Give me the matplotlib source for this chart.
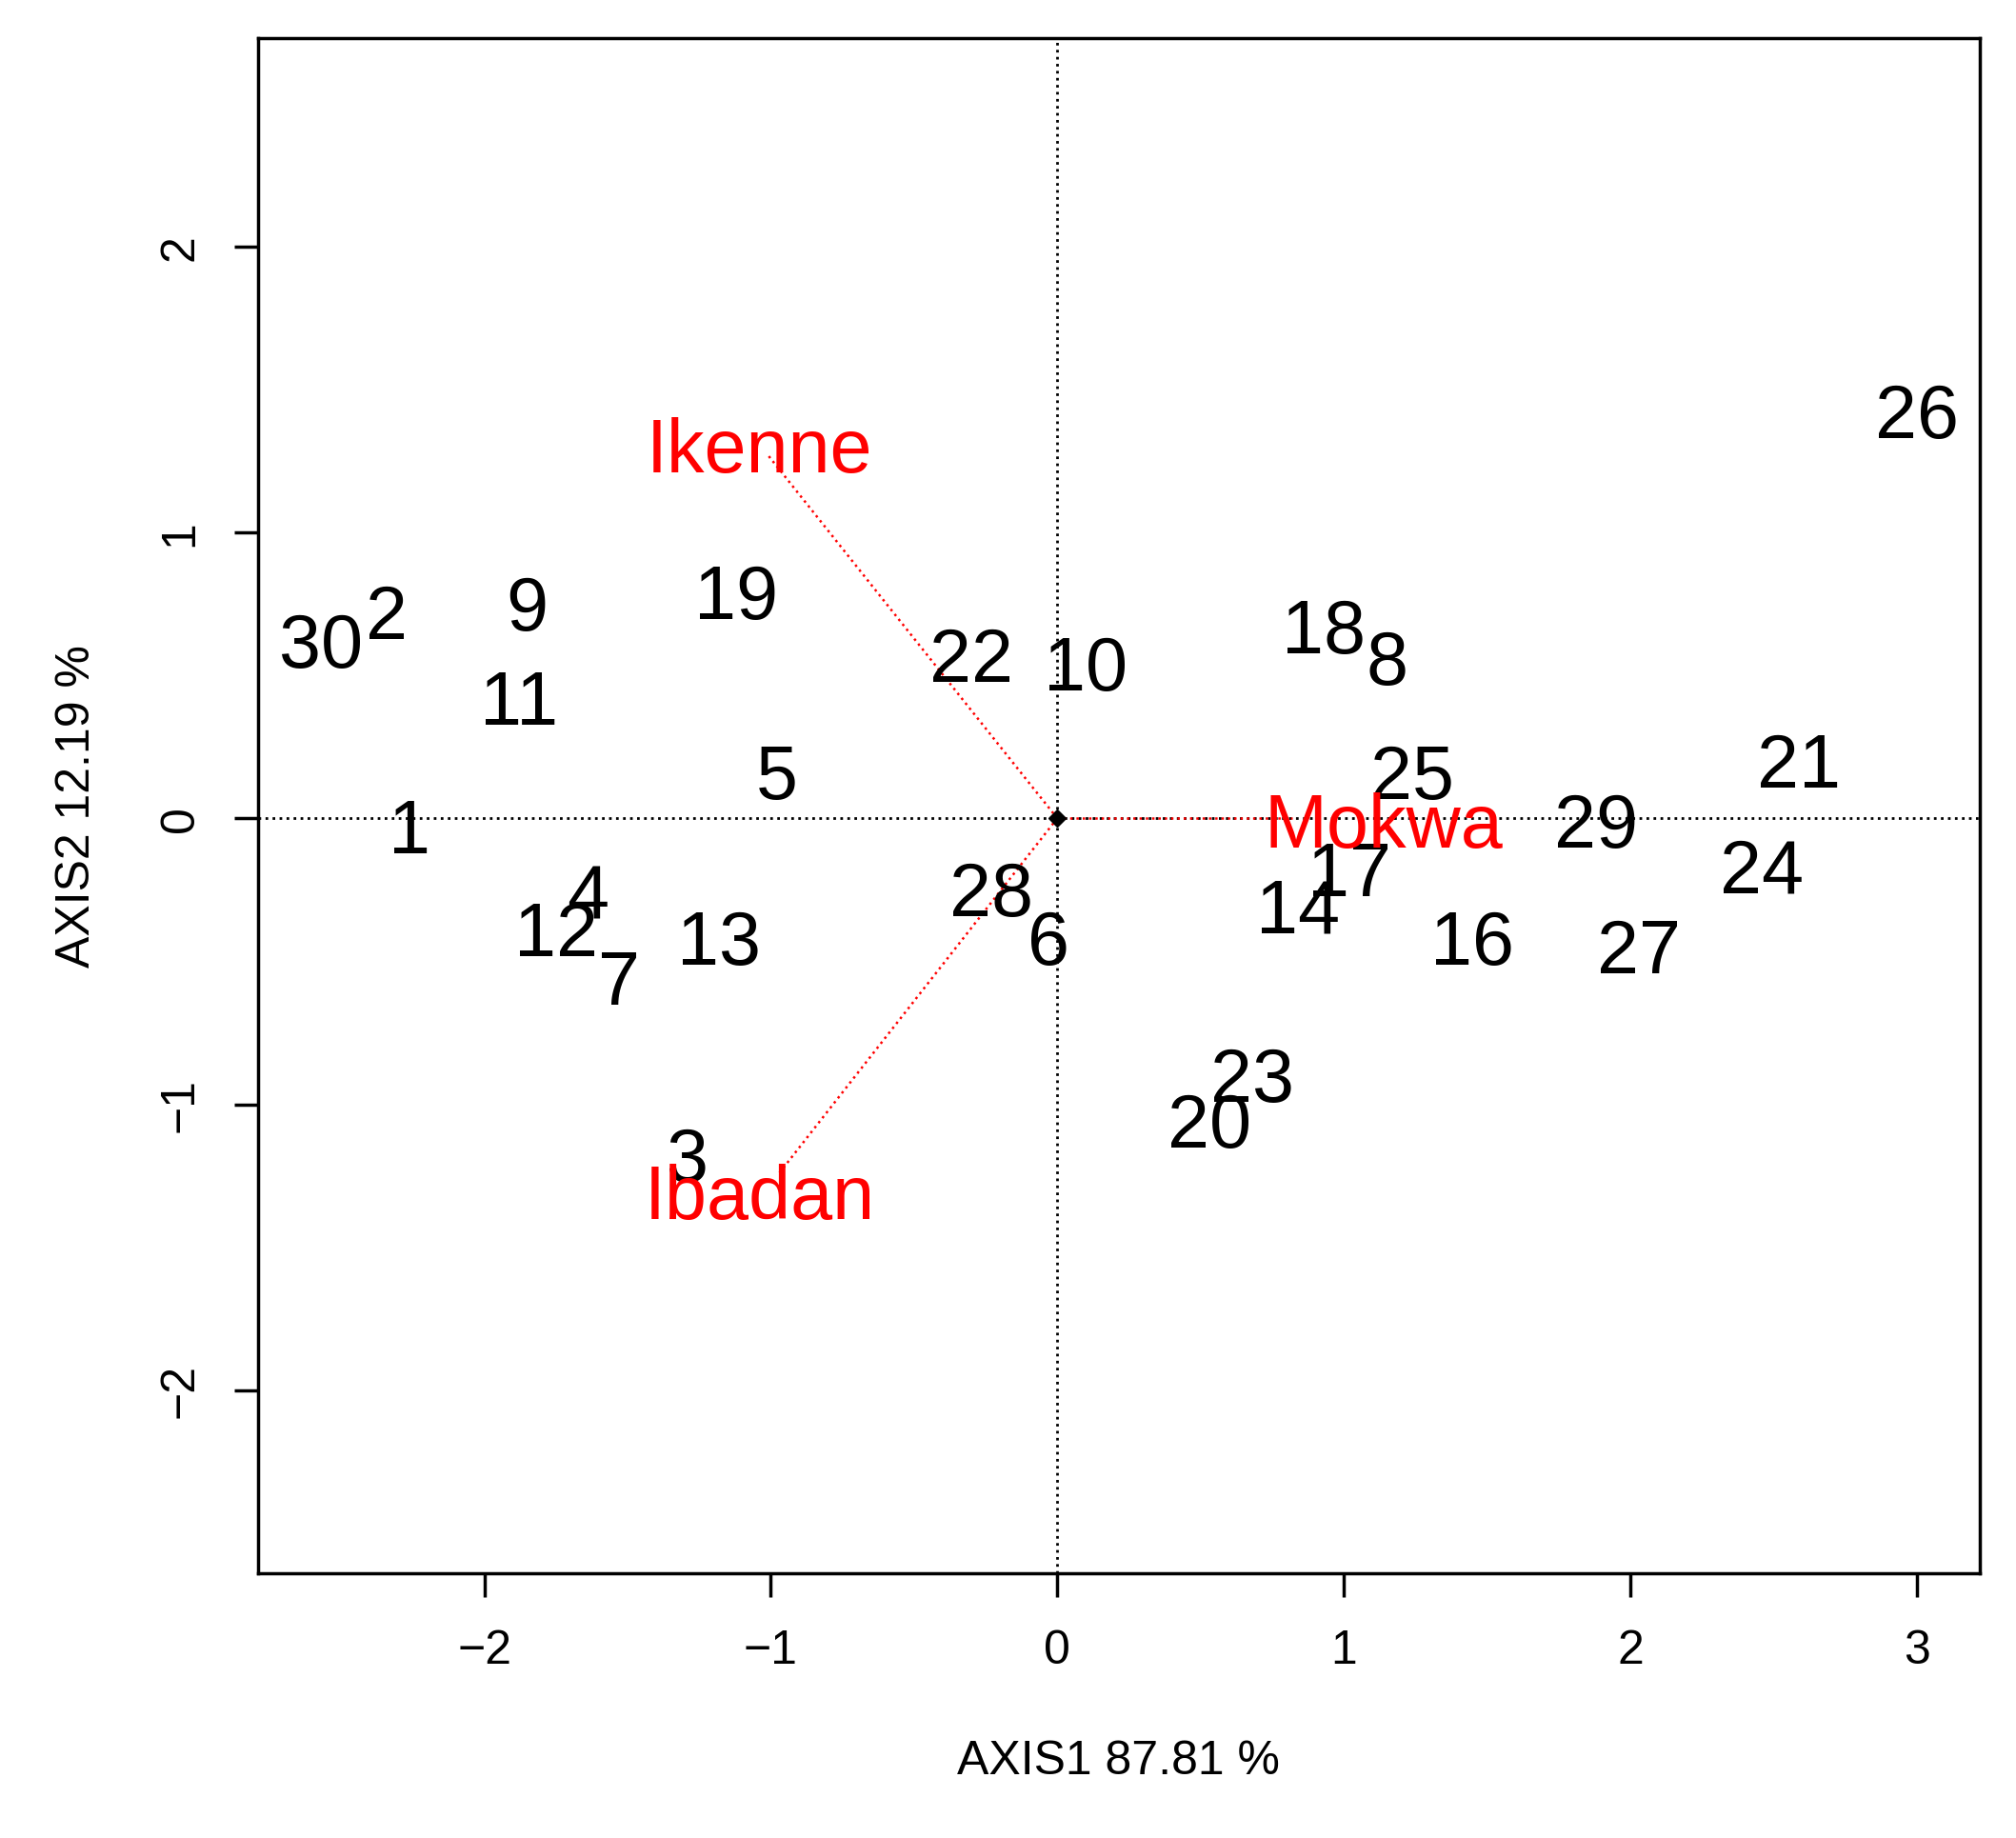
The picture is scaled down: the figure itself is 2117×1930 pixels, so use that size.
import matplotlib
matplotlib.use('Agg')
import matplotlib.pyplot as plt

plt.rcParams['font.family'] = ['Liberation Sans', 'DejaVu Sans']

# genotype scores
gen_labels = ['30', '2', '9', '19', '11', '22', '10', '18', '8', '26', '5', '1', '25', '29', '21',
              '24', '4', '12', '7', '13', '28', '6', '14', '17', '16', '27', '23', '20', '3']
gen_x = [-2.57, -2.34, -1.85, -1.12, -1.88, -0.30, 0.10, 0.93, 1.15, 3.00, -0.98, -2.26, 1.24, 1.88, 2.59,
         2.46, -1.64, -1.75, -1.53, -1.18, -0.23, -0.03, 0.84, 1.02, 1.45, 2.03, 0.68, 0.53, -1.29]
gen_y = [0.60, 0.70, 0.73, 0.77, 0.40, 0.55, 0.52, 0.65, 0.54, 1.40, 0.14, -0.05, 0.14, -0.03, 0.18,
         -0.19, -0.28, -0.41, -0.58, -0.44, -0.27, -0.44, -0.33, -0.20, -0.44, -0.47, -0.92, -1.08, -1.20]

# environment vectors
env_labels = ['Ikenne', 'Mokwa', 'Ibadan']
env_x = [-1.01, 0.82, -0.97]
env_y = [1.27, 0.0, -1.24]
env_lab_x = [-1.04, 1.14, -1.04]
env_lab_y = [1.28, -0.03, -1.33]

fig = plt.figure(figsize=(21.17, 19.31), dpi=100)
ax = fig.add_axes([0.128, 0.144, 0.854, 0.835])

ax.axhline(0, color='black', linestyle=':', linewidth=2)
ax.axvline(0, color='black', linestyle=':', linewidth=2)

for ex, ey in zip(env_x, env_y):
    ax.plot([0, ex], [0, ey], color='red', linestyle=':', linewidth=1.8)
ax.plot([0], [0], marker='D', color='black', markersize=9)

for lab, x, y in zip(gen_labels, gen_x, gen_y):
    ax.text(x, y, lab, fontsize=57, ha='center', va='center', color='black')
for lab, x, y in zip(env_labels, env_lab_x, env_lab_y):
    ax.text(x, y, lab, fontsize=57, ha='center', va='center', color='red')

ax.set_xlim(-2.79, 3.22)
ax.set_ylim(-2.64, 2.73)
ax.set_xticks([-2, -1, 0, 1, 2, 3])
ax.set_xticklabels(['\u22122', '\u22121', '0', '1', '2', '3'])
ax.set_yticks([-2, -1, 0, 1, 2])
ax.set_yticklabels(['\u22122', '\u22121', '0', '1', '2'], rotation=90, va='center')
ax.tick_params(labelsize=36, width=2.5, length=18, pad=24)
for s in ax.spines.values():
    s.set_linewidth(2.5)
ax.set_xlabel('AXIS1 87.81 %', fontsize=36, labelpad=50)
ax.set_ylabel('AXIS2 12.19 %', fontsize=36, labelpad=45)

fig.savefig('out.png', dpi=100)
